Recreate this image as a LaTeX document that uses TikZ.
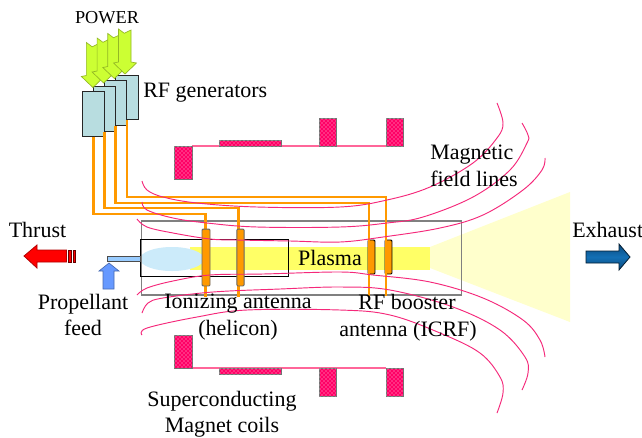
\documentclass[tikz,border=0pt]{standalone}
\usepackage{fontspec}
\setmainfont{Liberation Serif}
\usetikzlibrary{patterns}
\definecolor{leadc}{HTML}{FF9900}
\definecolor{genc}{HTML}{B8DDE0}
\definecolor{arrowc}{HTML}{CCFF33}
\definecolor{fieldc}{HTML}{F5287A}
\definecolor{coilc}{HTML}{FF0066}
\definecolor{coilline}{HTML}{FF6699}
\definecolor{plasmac}{HTML}{FFFF66}
\definecolor{exhaustc}{HTML}{FFFFCC}
\definecolor{bluec}{HTML}{CCEBFA}
\definecolor{feedc}{HTML}{99CCFF}
\definecolor{feedarrow}{HTML}{6699FF}
\definecolor{exhdark}{HTML}{0A4A7E}
\definecolor{exhlight}{HTML}{1470B4}
\tikzset{
  x=0.75pt,y=-0.75pt,
  lbl/.style={anchor=base,inner sep=0pt,font=\fontsize{16.5}{17}\selectfont,text=black},
  genbox/.style={draw=black!85,fill=genc,line width=0.7pt,minimum width=17pt,minimum height=33.2pt,inner sep=0pt},
  leadline/.style={draw=leadc,line width=1.6pt},
  antbox/.style={draw=black!60,fill=leadc,line width=0.7pt,inner sep=0pt,rounded corners=0.8pt},
  coilbox/.style={draw=black!55,fill=coilc,line width=0.6pt,inner sep=0pt,postaction={pattern=crosshatch dots,pattern color=white!80!coilc}},
  fieldline/.style={draw=fieldc,line width=0.7pt,smooth,tension=0.6},
  powerarrow/.style={draw=black!28!arrowc,fill=arrowc,line width=0.5pt,line join=miter},
}
\begin{document}
\begin{tikzpicture}
\clip (0,0) rectangle (642,437);
\fill[white] (0,0) rectangle (642,437);

% exhaust and plasma
\fill[exhaustc] (430,247) -- (570,192) -- (570,322) -- (430,268) -- cycle;
\fill[plasmac] (190,247) rectangle (430,270);
\fill[bluec] (172,259) ellipse [x radius=32,y radius=12];

% tubes
\node[draw=black!50,line width=0.8pt,minimum width=240.3pt,minimum height=55.5pt,inner sep=0pt] (tube) at (301.3,258) {};
\node[draw=black,line width=0.7pt,minimum width=111pt,minimum height=27.7pt,inner sep=0pt] (inner) at (214,257.5) {};

% coils
\draw[coilline,line width=1.1pt] (192,146) -- (386,146);
\draw[coilline,line width=1.1pt] (192,368) -- (386,368);
\node[coilbox,minimum width=13.5pt,minimum height=24.7pt] (c1) at (183,162.5) {};
\node[coilbox,minimum width=46.5pt,minimum height=4.5pt] (c2) at (250,143) {};
\node[coilbox,minimum width=12.7pt,minimum height=21pt] (c3) at (327.5,132) {};
\node[coilbox,minimum width=12.7pt,minimum height=21pt] (c4) at (394.5,132) {};
\node[coilbox,minimum width=13.5pt,minimum height=24.7pt] (c5) at (183,351.5) {};
\node[coilbox,minimum width=46.5pt,minimum height=4.5pt] (c6) at (250,371) {};
\node[coilbox,minimum width=12.7pt,minimum height=21pt] (c7) at (327.5,382) {};
\node[coilbox,minimum width=12.7pt,minimum height=21pt] (c8) at (394.5,382) {};

% generators
\node[genbox] (g4) at (127,97.5) {};
\node[genbox] (g3) at (115.5,103) {};
\node[genbox] (g2) at (104.5,109) {};
\node[genbox] (g1) at (93.5,114) {};

% rear antennas
\node[antbox,draw=black,minimum width=5.2pt,minimum height=25.5pt] (a3) at (371.5,257) {};
\node[antbox,draw=black,minimum width=5.2pt,minimum height=25.5pt] (a4) at (388.5,257) {};

% leads
\coordinate (t1) at (205.5,214); \coordinate (e1) at (205.5,297);
\coordinate (t2) at (238.5,208); \coordinate (e2) at (238.5,297);
\coordinate (t3) at (369,203);   \coordinate (e3) at (369,296);
\coordinate (t4) at (386,197);   \coordinate (e4) at (386,296);
\draw[leadline] (g1.south) |- (t1) -- (e1);
\draw[leadline] (g2.south) |- (t2) -- (e2);
\draw[leadline] (g3.south) |- (t3) -- (e3);
\draw[leadline] (g4.south) |- (t4) -- (e4);

% front antennas
\node[antbox,minimum width=6pt,minimum height=42.7pt] (a1) at (206,257.5) {};
\node[antbox,minimum width=5.4pt,minimum height=42.7pt] (a2) at (240.5,257.5) {};

% power arrows
\foreach \n in {3,2,1,0}{
  \begin{scope}[shift={(-10.7*\n,4.5*\n)}]
    \path[powerarrow] (118.5,29) -- (124.3,33.3) -- (131,30) -- (131,62) -- (136.5,63) -- (125,74) -- (113.5,63) -- (118.5,62) -- cycle;
  \end{scope}
}

% field lines
\draw[fieldline] plot coordinates {(142,181) (147,190) (163,197) (197,203) (257,207) (340,207) (387,200) (430,187) (473,163) (497,138) (503,123) (497,103)};
\draw[fieldline] plot coordinates {(142,202) (147,210) (173,218) (207,223) (257,227) (340,227) (387,223) (423,217) (473,197) (510,170) (527,143) (528,135) (522,123)};
\draw[fieldline] plot coordinates {(137,219) (147,227) (173,233) (210,239) (237,240) (290,241) (340,242) (383,237) (440,228) (483,215) (523,190) (542,170) (545,158)};
\draw[fieldline] plot coordinates {(137,295) (147,288) (173,281) (210,275) (263,274) (340,272) (373,275) (430,282) (483,298) (523,320) (540,340) (545,357)};
\draw[fieldline] plot coordinates {(142,313) (148,303) (163,298) (213,292) (280,289) (340,287) (390,290) (453,307) (500,330) (525,357) (528,373) (522,390)};
\draw[fieldline] plot coordinates {(142,335) (147,328) (197,317) (247,310) (340,310) (390,315) (440,333) (480,353) (500,377) (503,393) (497,413)};

% propellant feed
\node[draw=black!70,fill=feedc,line width=0.6pt,minimum width=24.7pt,minimum height=4.2pt,inner sep=0pt] (feed) at (123.5,259) {};
\path[draw=black!30!feedarrow,fill=feedarrow,line width=0.5pt] (109,263) -- (119,271) -- (114,271) -- (114,289) -- (103,289) -- (103,271) -- (99,271) -- cycle;

% thrust arrow
\path[draw=red!70!black,fill=red,line width=0.6pt] (24,256) -- (37,245) -- (37,250) -- (66.5,250) -- (66.5,262) -- (37,262) -- (37,268) -- cycle;
\node[draw=red!40!black,fill=red,line width=0.35pt,minimum width=2.4pt,minimum height=9pt,inner sep=0pt] (tb1) at (70,256) {};
\node[draw=red!40!black,fill=red,line width=0.35pt,minimum width=1pt,minimum height=9pt,inner sep=0pt] (tb2) at (74.3,256) {};

% exhaust arrow
\path[draw=black!60!exhdark,top color=exhdark,bottom color=exhdark,middle color=exhlight,line width=0.6pt] (586,251) -- (619,251) -- (619,244) -- (630,257) -- (619,270) -- (619,263) -- (586,263) -- cycle;

% labels
\node[lbl,font=\fontsize{13.7}{14}\selectfont] (power) at (107,23) {POWER};
\node[lbl,anchor=base west] (rfgen) at (143,97) {RF generators};
\node[lbl,anchor=base west] (mag) at (430,159) {Magnetic};
\node[lbl,anchor=base west] (fld) at (430,186) {field lines};
\node[lbl] (thrust) at (37.5,237) {Thrust};
\node[lbl,anchor=base west] (exh) at (572,237) {Exhaust};
\node[lbl] (plasma) at (330,265) {Plasma};
\node[lbl] (prop) at (83,309) {Propellant};
\node[lbl] (pfeed) at (83,335) {feed};
\node[lbl] (ion) at (238,308) {Ionizing antenna};
\node[lbl] (hel) at (238,335) {(helicon)};
\node[lbl] (rfb) at (407,309) {RF booster};
\node[lbl] (icrf) at (408,336) {antenna (ICRF)};
\node[lbl] (sc) at (222,406) {Superconducting};
\node[lbl] (mc) at (222,432) {Magnet coils};
\end{tikzpicture}
\end{document}
